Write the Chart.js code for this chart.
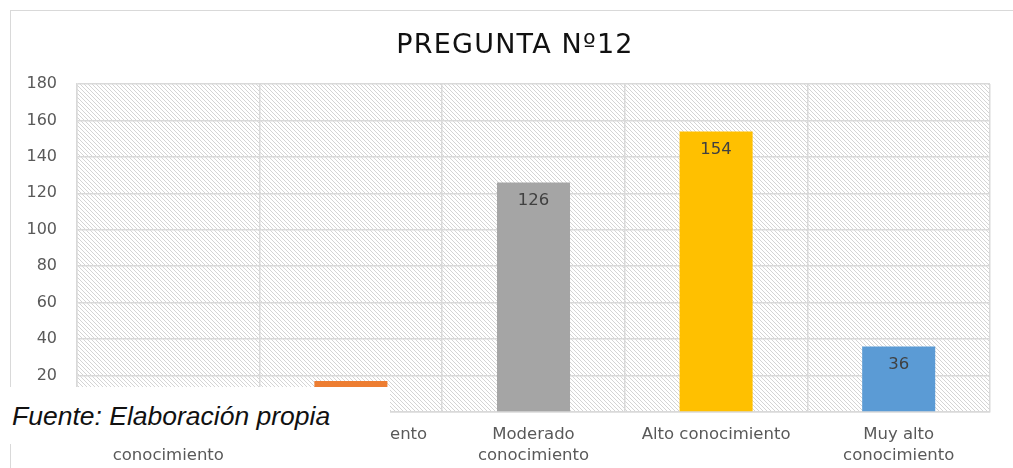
<!DOCTYPE html>
<html>
<head>
<meta charset="utf-8">
<script src="https://cdn.jsdelivr.net/npm/chart.js@4.4.0/dist/chart.umd.min.js"></script>
<style>
  html, body { margin: 0; padding: 0; background: #fff; }
  #wrap { position: relative; width: 1013px; height: 468px; overflow: hidden; }
  #frame { position: absolute; left: 10px; top: 10px; width: 1100px; height: 600px;
           border: 1.5px solid #d9d9d9; box-sizing: border-box; }
  #chart { position: absolute; left: 0; top: 0; }
  #fuente { position: absolute; left: 0; top: 387px; width: 390px; height: 57px; background: #fff;
            font-family: "Liberation Sans", Arial, sans-serif; font-style: italic; font-size: 26.5px;
            color: #111; padding-left: 12px; box-sizing: border-box; line-height: 30px; padding-top: 14px; }
</style>
</head>
<body>
<div id="wrap">
  <div id="frame"></div>
  <canvas id="chart" width="1013" height="468"></canvas>
  <div id="fuente">Fuente: Elaboración propia</div>
</div>
<script>
// Chart data
const chartTitle = 'PREGUNTA Nº12';
const categories = [
    ['Muy bajo', 'conocimiento'],
    'Bajo conocimiento',
    ['Moderado', 'conocimiento'],
    'Alto conocimiento',
    ['Muy alto', 'conocimiento']
];
const values = [0, 17, 126, 154, 36];
const barColors = ['#4472C4', '#ED7D31', '#A5A5A5', '#FFC000', '#5B9BD5'];
const yTicks = { min: 0, max: 180, step: 20 };

const chartFont = '"DejaVu Sans", "Open Sans", sans-serif';

// diagonal hatch used for the plot background
function makeHatch() {
    const c = document.createElement('canvas');
    c.width = 4; c.height = 4;
    const g = c.getContext('2d');
    g.fillStyle = '#fff';
    g.fillRect(0, 0, 4, 4);
    g.strokeStyle = '#d4d4d4';
    g.lineWidth = 1;
    g.beginPath();
    for (let i = -4; i <= 4; i += 4) {
        g.moveTo(i, 0);
        g.lineTo(i + 4, 4);
    }
    g.stroke();
    return c;
}

const hatchBackground = {
    id: 'hatchBackground',
    beforeDraw(chart) {
        const { ctx, chartArea: a } = chart;
        ctx.save();
        ctx.fillStyle = ctx.createPattern(makeHatch(), 'repeat');
        ctx.fillRect(a.left, a.top, a.right - a.left, a.bottom - a.top);
        ctx.restore();
    }
};

// title sits centred on the whole frame, not the chart box
const frameTitle = {
    id: 'frameTitle',
    afterDraw(chart) {
        const { ctx } = chart;
        ctx.save();
        ctx.font = '27px ' + chartFont;
        ctx.letterSpacing = '1.2px';
        ctx.fillStyle = '#111';
        ctx.textAlign = 'center';
        ctx.textBaseline = 'alphabetic';
        ctx.fillText(chartTitle, 515, 53);
        ctx.restore();
    }
};

// value labels just inside the top of each bar
const barLabels = {
    id: 'barLabels',
    afterDatasetsDraw(chart) {
        const { ctx } = chart;
        const meta = chart.getDatasetMeta(0);
        ctx.save();
        ctx.font = '16.5px ' + chartFont;
        ctx.fillStyle = '#404040';
        ctx.textAlign = 'center';
        ctx.textBaseline = 'middle';
        meta.data.forEach((bar, i) => {
            if (!values[i]) return;
            ctx.fillText(String(values[i]), bar.x, bar.y + 18.5);
        });
        ctx.restore();
    }
};

const ctx = document.getElementById('chart').getContext('2d');
new Chart(ctx, {
    type: 'bar',
    data: {
        labels: categories,
        datasets: [{
            data: values,
            backgroundColor: barColors,
            borderWidth: 0,
            barPercentage: 0.8,
            categoryPercentage: 0.5
        }]
    },
    options: {
        responsive: false,
        animation: false,
        layout: { padding: { top: 84, right: 23, bottom: 0, left: 0 } },
        plugins: {
            legend: { display: false },
            tooltip: { enabled: false },
            title: { display: false }
        },
        scales: {
            x: {
                offset: true,
                grid: { offset: true, color: '#d9d9d9', lineWidth: 1.5, drawTicks: false },
                border: { display: true, color: '#d9d9d9', width: 1.5 },
                ticks: {
                    color: '#595959',
                    font: { family: chartFont, size: 16.5, lineHeight: 1.3 },
                    padding: 12,
                    maxRotation: 0,
                    autoSkip: false
                },
                afterFit(scale) { scale.height = 56; }
            },
            y: {
                min: yTicks.min,
                max: yTicks.max,
                grid: { color: '#d9d9d9', lineWidth: 1.5, drawTicks: false },
                border: { display: true, color: '#d9d9d9', width: 1.5 },
                ticks: {
                    stepSize: yTicks.step,
                    color: '#595959',
                    font: { family: chartFont, size: 16 },
                    padding: 20
                },
                afterFit(scale) { scale.width = 77; }
            }
        }
    },
    plugins: [hatchBackground, barLabels, frameTitle]
});
</script>
</body>
</html>
